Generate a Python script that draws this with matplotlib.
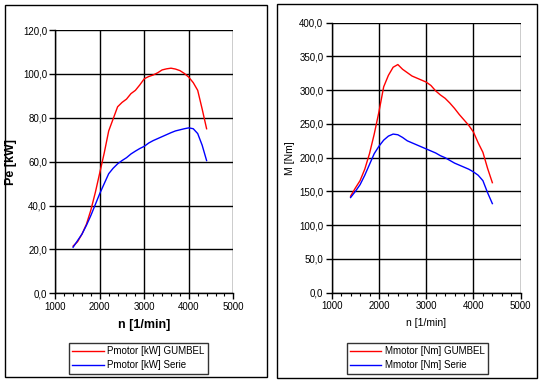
#!/usr/bin/env python3
# -*- coding: utf-8 -*-
"""
Engine power and torque curves, GUMBEL tuning vs. series
"""

import matplotlib
matplotlib.use('Agg')
import matplotlib.pyplot as plt
from matplotlib.patches import Rectangle
from matplotlib.ticker import MultipleLocator, FuncFormatter


rpm = [1400, 1500, 1600, 1700, 1800, 1900, 2000, 2100, 2200, 2300, 2400,
       2500, 2600, 2700, 2800, 2900, 3000, 3100, 3200, 3300, 3400, 3500,
       3600, 3700, 3800, 3900, 4000, 4100, 4200, 4300, 4400]

power_gumbel = [21.5, 23.5, 27.0, 31.5, 38.0, 46.0, 55.0, 64.0, 74.0, 79.5, 85.0,
                87.0, 88.5, 91.0, 92.5, 95.0, 97.8, 98.8, 99.5, 100.5, 101.8, 102.3,
                102.6, 102.2, 101.5, 100.2, 98.5, 96.0, 92.5, 84.0, 75.0]
power_serie = [21.0, 24.0, 27.0, 31.0, 35.5, 40.5, 45.5, 50.0, 54.5, 57.0, 59.0,
               60.5, 61.8, 63.5, 64.8, 66.0, 67.0, 68.5, 69.6, 70.5, 71.4, 72.3,
               73.2, 74.0, 74.5, 75.0, 75.4, 75.0, 72.8, 67.5, 60.5]

torque_gumbel = [143, 155, 166, 183, 206, 235, 268, 305, 322, 334, 338,
                 331, 326, 321, 318, 315, 312, 307, 299, 293, 288, 281,
                 273, 264, 256, 248, 238, 222, 208, 184, 163]
torque_serie = [141, 150, 160, 174, 190, 206, 217, 226, 232, 235, 234,
                230, 225, 222, 219, 216, 213, 210, 207, 203, 200, 196,
                192, 189, 186, 183, 179, 174, 166, 148, 132]

W, H = 543, 383


def box(x0, y0, x1, y1):
    ''' convert pixel box (top-left origin) to figure fraction rect '''
    return [x0 / W, 1 - y1 / H, (x1 - x0) / W, (y1 - y0) / H]


def panel(fig, rect, frame, series, ymax, ystep, ylabel, bold, labels, ylab_x):
    ax = fig.add_axes(box(*rect))
    fr = box(*frame)
    fig.patches.append(Rectangle((fr[0], fr[1]), fr[2], fr[3],
                                 transform=fig.transFigure, fill=False,
                                 edgecolor='black', linewidth=1.0))
    for vals, col, lab in zip(series, ['#ff0000', '#0000ff'], labels):
        ax.plot(rpm, vals, color=col, linewidth=1.0, label=lab)

    ax.set_xlim(1000, 5000)
    ax.set_ylim(0, ymax)
    ax.xaxis.set_major_locator(MultipleLocator(1000))
    ax.xaxis.set_minor_locator(MultipleLocator(200))
    ax.yaxis.set_major_locator(MultipleLocator(ystep))
    ax.yaxis.set_major_formatter(FuncFormatter(lambda v, p: ('%.1f' % v).replace('.', ',')))
    ax.grid(True, which='major', color='black', linewidth=1.0)
    ax.set_axisbelow(True)
    for s in ['top', 'right']:
        ax.spines[s].set_visible(False)
    for s in ['left', 'bottom']:
        ax.spines[s].set_linewidth(1.0)
    ax.tick_params(which='major', length=4, width=1.0, labelsize=7, pad=2)
    ax.tick_params(which='minor', length=2, width=0.8)
    ax.tick_params(axis='y', which='minor', length=0)
    w = 'bold' if bold else 'normal'
    fs = 9 if bold else 7.5
    ax.set_xlabel('n [1/min]', fontsize=fs, fontweight=w, labelpad=5)
    ax.set_ylabel(ylabel, fontsize=fs, fontweight=w)
    ax.yaxis.set_label_coords(ylab_x, 0.5)

    leg = ax.legend(loc='upper left', fontsize=7, frameon=True, fancybox=False,
                    handlelength=3.2, handletextpad=0.4, borderpad=0.35,
                    labelspacing=0.4, bbox_to_anchor=(0, 0), borderaxespad=0)
    leg.get_frame().set_edgecolor('black')
    leg.get_frame().set_linewidth(1.0)
    return ax, leg


if __name__ == '__main__':
    plt.rcParams['font.family'] = ['Liberation Sans', 'DejaVu Sans']
    fig = plt.figure(figsize=(W / 100, H / 100), dpi=100)

    ax1, leg1 = panel(fig, (55.3, 30, 233.3, 293.3), (5, 5, 267, 377),
                      [power_gumbel, power_serie], 120, 20, 'Pe [kW]', True,
                      ['Pmotor [kW] GUMBEL', 'Pmotor [kW] Serie'], -0.215)
    leg1.set_bbox_to_anchor(box(69, 343, 200, 373), transform=fig.transFigure)

    ax2, leg2 = panel(fig, (331.7, 22.7, 520.7, 292.7), (277, 4, 537, 378),
                      [torque_gumbel, torque_serie], 400, 50, 'M [Nm]', False,
                      ['Mmotor [Nm] GUMBEL', 'Mmotor [Nm] Serie'], -0.195)
    leg2.set_bbox_to_anchor(box(346.7, 343, 484.3, 373), transform=fig.transFigure)

    fig.savefig('out.png', dpi=100)
